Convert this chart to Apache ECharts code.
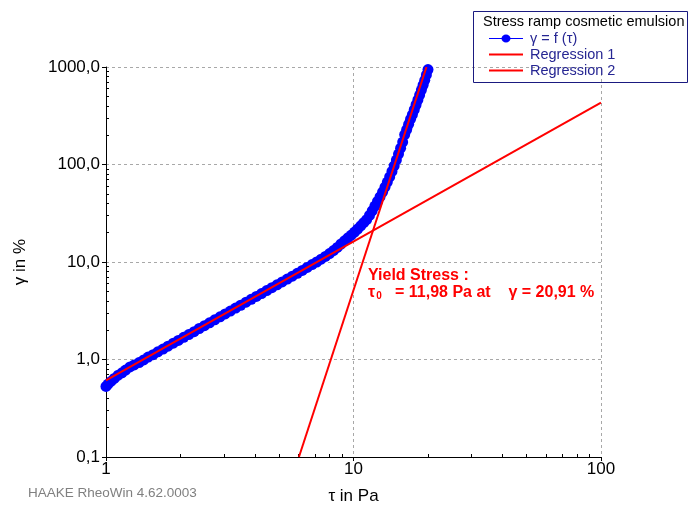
<!DOCTYPE html>
<html>
<head>
<meta charset="utf-8">
<script src="https://cdn.jsdelivr.net/npm/echarts@6/dist/echarts.min.js"></script>
<style>
html,body{margin:0;padding:0;background:#fff;}
#chart{width:689px;height:506px;}
</style>
</head>
<body>
<div id="chart"></div>
<script>
// ---- data ----
var tau = [1.00,1.02,1.05,1.08,1.12,1.16,1.20,1.25,1.30,1.36,1.42,1.48,1.55,1.62,1.70,1.78,1.87,1.96,2.06,2.16,2.27,2.38,2.50,2.62,2.75,2.89,3.03,3.18,3.34,3.50,3.68,3.86,4.05,4.25,4.46,4.68,4.91,5.15,5.40,5.66,5.93,6.21,6.50,6.80,7.10,7.40,7.70,8.00,8.30,8.60,8.90,9.20,9.50,9.80,10.1,10.4,10.7,11.0,11.3,11.6,11.9,12.2,12.5,12.8,13.1,13.4,13.7,14.0,14.3,14.6,14.9,15.2,15.5,15.8,16.1,16.4,16.7,17.0,17.3,17.6,17.9,18.2,18.5,18.8,19.1,19.4,19.7,20.0,20.3];
var gamma = [0.53,0.56,0.60,0.64,0.69,0.73,0.78,0.84,0.88,0.93,0.99,1.06,1.12,1.20,1.28,1.37,1.47,1.57,1.69,1.80,1.93,2.08,2.22,2.38,2.55,2.74,2.93,3.14,3.37,3.60,3.87,4.14,4.43,4.75,5.09,5.45,5.84,6.25,6.69,7.16,7.65,8.2,8.8,9.4,10.0,10.7,11.4,12.2,13.1,14.1,15.3,16.5,17.7,18.9,20.3,21.8,23.5,25.3,27.2,30.0,33.5,37.5,41.8,46.5,52,58.5,66,74.5,85,97,111,128,147,170,203,228,258,292,325,365,410,460,515,580,650,730,830,940,1060];
var reg1Tau = [1, 100];
var reg1Gamma = [0.61, 432];
var reg2Tau = [6.02, 19.72];
var reg2Gamma = [0.1, 1000];
var xMajor = [1, 10, 100];
var yMajor = [0.1, 1, 10, 100, 1000];
var seriesNames = ['γ = f (τ)', 'Regression 1', 'Regression 2'];
var legendTitle = 'Stress ramp cosmetic emulsion';
var yieldTau = '11,98';
var yieldGamma = '20,91';

function minorTicks(majors) {
  var out = [];
  for (var i = 0; i < majors.length - 1; i++) {
    for (var k = 2; k <= 9; k++) out.push(+(majors[i] * k).toPrecision(6));
  }
  return out;
}
function zip(a, b) { return a.map(function (v, i) { return [v, b[i]]; }); }

var FONT = 'Liberation Sans, Arial, sans-serif';
var NAVY = '#262693';
var gridColor = '#a8a8a8';
var ICON_DOT = 'path://M0,0 M36,10 M0,4.5 L13,4.5 L13,5.5 L0,5.5 Z M21,4.5 L34,4.5 L34,5.5 L21,5.5 Z M21.5,5 A4.5,4 0 1 1 12.5,5 A4.5,4 0 1 1 21.5,5 Z';
var ICON_LINE = 'path://M0,0 M36,10 M0,4 L34,4 L34,6 L0,6 Z';

var chart = echarts.init(document.getElementById('chart'), null, {renderer: 'canvas'});
chart.setOption({
  animation: false,
  backgroundColor: '#ffffff',
  textStyle: {fontFamily: FONT},
  grid: {left: 106, right: 88, top: 67, bottom: 49, containLabel: false, outerBoundsMode: 'none'},
  xAxis: [{
    type: 'log', logBase: 10, min: 1, max: 100, gridIndex: 0,
    name: 'τ in Pa', nameLocation: 'middle', nameGap: 31,
    nameTextStyle: {fontSize: 17, color: '#000', fontFamily: FONT},
    axisLine: {show: true, onZero: false, lineStyle: {color: '#000', width: 1}},
    axisTick: {show: true, inside: false, length: 4, lineStyle: {color: '#000'}, customValues: xMajor},
    axisLabel: {fontSize: 17, color: '#000', margin: 4, fontFamily: FONT, customValues: xMajor,
      formatter: function (v) { return String(Math.round(v)); }},
    splitLine: {show: true, lineStyle: {color: gridColor, type: [3, 3], width: 1}},
    minorTick: {show: false}
  }, {
    type: 'log', logBase: 10, min: 1, max: 100, gridIndex: 0, position: 'bottom',
    axisLine: {show: false},
    axisTick: {show: true, inside: true, length: 3, lineStyle: {color: '#000'}, customValues: minorTicks(xMajor)},
    axisLabel: {show: false},
    splitLine: {show: false}
  }],
  yAxis: [{
    type: 'log', logBase: 10, min: 0.1, max: 1000, gridIndex: 0,
    name: 'γ in %', nameLocation: 'middle', nameGap: 77, nameRotate: 90,
    nameTextStyle: {fontSize: 17, color: '#000', fontFamily: FONT},
    axisLine: {show: true, onZero: false, lineStyle: {color: '#000', width: 1}},
    axisTick: {show: true, inside: false, length: 4, lineStyle: {color: '#000'}, customValues: yMajor},
    axisLabel: {fontSize: 17, color: '#000', margin: 6, fontFamily: FONT, customValues: yMajor,
      formatter: function (v) { return v.toFixed(1).replace('.', ','); }},
    splitLine: {show: true, lineStyle: {color: gridColor, type: [3, 3], width: 1}}
  }, {
    type: 'log', logBase: 10, min: 0.1, max: 1000, gridIndex: 0, position: 'left',
    axisLine: {show: false},
    axisTick: {show: true, inside: true, length: 3, lineStyle: {color: '#000'}, customValues: minorTicks(yMajor)},
    axisLabel: {show: false},
    splitLine: {show: false}
  }],
  legend: {
    data: [
      {name: seriesNames[0], icon: ICON_DOT},
      {name: seriesNames[1], icon: ICON_LINE},
      {name: seriesNames[2], icon: ICON_LINE}
    ],
    orient: 'vertical', left: 484, top: 26, itemGap: 1,
    itemWidth: 36, itemHeight: 10,
    itemStyle: {borderWidth: 0},
    textStyle: {fontSize: 14.5, color: NAVY, fontFamily: FONT},
    selectedMode: false
  },
  series: [{
    name: seriesNames[0], type: 'line', data: zip(tau, gamma),
    symbol: 'circle', symbolSize: 11, showAllSymbol: true,
    lineStyle: {color: '#0000ff', width: 1},
    itemStyle: {color: '#0000ff'},
    z: 2
  }, {
    name: seriesNames[1], type: 'line', data: zip(reg1Tau, reg1Gamma),
    symbol: 'none', lineStyle: {color: '#ff0000', width: 2}, itemStyle: {color: '#ff0000'}, z: 3
  }, {
    name: seriesNames[2], type: 'line', data: zip(reg2Tau, reg2Gamma),
    symbol: 'none', lineStyle: {color: '#ff0000', width: 2}, itemStyle: {color: '#ff0000'}, z: 3
  }],
  graphic: [{
    type: 'rect', left: 473, top: 11, z: 10,
    shape: {width: 214, height: 71},
    style: {fill: 'transparent', stroke: '#1a1a80', lineWidth: 1}
  }, {
    type: 'text', left: 483, top: 14, z: 11,
    style: {text: legendTitle, fill: '#000', font: '14.5px ' + FONT}
  }, {
    type: 'text', left: 368, top: 267, z: 11,
    style: {
      text: 'Yield Stress :\n{t|τ}{s|0}   = ' + yieldTau + ' Pa at    γ = ' + yieldGamma + ' %',
      fill: '#ff0000', font: 'bold 16px ' + FONT, lineHeight: 17,
      rich: {t: {fill: '#ff0000', font: 'bold 16px ' + FONT}, s: {fill: '#ff0000', font: 'bold 10px ' + FONT, verticalAlign: 'bottom', padding: [6, 0, 0, 1]}}
    }
  }, {
    type: 'text', left: 28, top: 486, z: 11,
    style: {text: 'HAAKE RheoWin 4.62.0003', fill: '#808080', font: '13.5px ' + FONT}
  }]
});
</script>
</body>
</html>
